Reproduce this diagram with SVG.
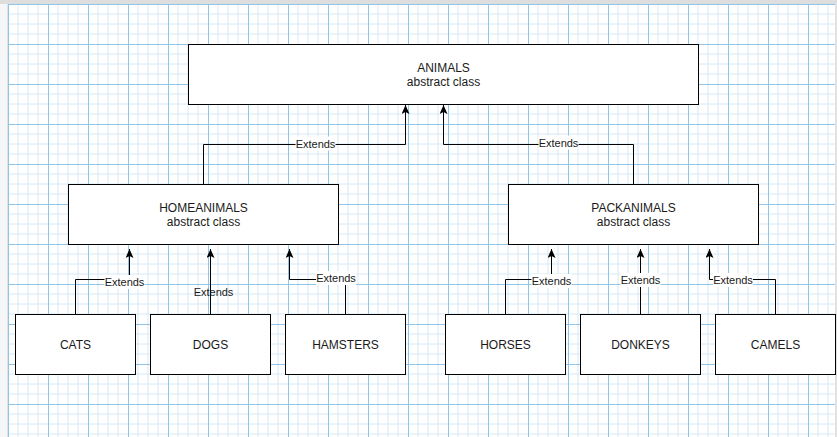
<svg xmlns="http://www.w3.org/2000/svg" width="837" height="437" viewBox="0 0 837 437">
<style>
.node rect{fill:#fff;stroke:#000;stroke-width:1}
.node text{font-family:"Liberation Sans",Arial,sans-serif;font-size:12px;fill:#1a1a1a;text-anchor:middle}
.edge path{fill:none;stroke:#000;stroke-width:1;marker-end:url(#arr)}
.lbl rect{fill:#fff}
.lbl text{font-family:"Liberation Sans",Arial,sans-serif;font-size:11px;fill:#1a1a1a;text-anchor:middle}
</style>
<defs>
<pattern id="grid" patternUnits="userSpaceOnUse" x="8" y="4" width="40" height="40">
<path d="M10,0V40M20,0V40M30,0V40M0,10H40M0,20H40M0,30H40" stroke="#d6e8f5" stroke-width="1" fill="none"/>
<path d="M0.5,0V40M0,0.5H40" stroke="#8ec5e8" stroke-width="1" fill="none"/>
</pattern>
<marker id="arr" viewBox="0 0 9 8" refX="9" refY="4" markerWidth="9" markerHeight="8" markerUnits="userSpaceOnUse" orient="auto">
<path d="M0,0 L9,4 L0,8 L2,4 Z" fill="#000"/>
</marker>
</defs>
<g id="background">
<rect x="0" y="0" width="837" height="437" fill="#fff"/>
<rect x="0" y="0" width="7" height="437" fill="#f5f6f8"/>
<rect x="7" y="0" width="1" height="437" fill="#e2e2e2"/>
<rect x="0" y="0" width="837" height="4" fill="#dedede"/>
<rect x="8" y="4" width="827" height="433" fill="url(#grid)"/>
<rect x="835" y="4" width="2" height="433" fill="#e2e2e2"/>
</g>
<g id="connectors" class="edge">
<path d="M203.5,184V144.5H405.5V105"/>
<path d="M633.5,184V144.5H443.5V105"/>
<path d="M75.5,314V279.5H129.5V249"/>
<path d="M210.5,314V249"/>
<path d="M345.5,314V279.5H289.5V249"/>
<path d="M505.5,314V279.5H551.5V249"/>
<path d="M640.5,314V249"/>
<path d="M775.5,314V279.5H709.5V249"/>
</g>
<g id="labels" class="lbl">
<rect x="295.5" y="136.5" width="40" height="14"/><text x="315.5" y="147.5">Extends</text>
<rect x="538.5" y="135.5" width="40" height="14"/><text x="558.5" y="146.5">Extends</text>
<rect x="104.5" y="275" width="40" height="14"/><text x="124.5" y="286">Extends</text>
<text x="213.5" y="296">Extends</text>
<rect x="316" y="271" width="40" height="14"/><text x="336" y="282">Extends</text>
<rect x="531.5" y="274" width="40" height="14"/><text x="551.5" y="285">Extends</text>
<rect x="620.5" y="273" width="40" height="14"/><text x="640.5" y="284">Extends</text>
<rect x="713" y="273" width="40" height="14"/><text x="733" y="284">Extends</text>
</g>
<g id="animals" class="node"><rect x="188.5" y="44.5" width="510" height="60"/><text x="443.5" y="71.5">ANIMALS</text><text x="443.5" y="85.5">abstract class</text></g>
<g id="homeanimals" class="node"><rect x="68.5" y="184.5" width="270" height="60"/><text x="203.5" y="211.5">HOMEANIMALS</text><text x="203.5" y="225.5">abstract class</text></g>
<g id="packanimals" class="node"><rect x="508.5" y="184.5" width="250" height="60"/><text x="633.5" y="211.5">PACKANIMALS</text><text x="633.5" y="225.5">abstract class</text></g>
<g id="cats" class="node"><rect x="15.5" y="314.5" width="120" height="60"/><text x="75.5" y="348.5">CATS</text></g>
<g id="dogs" class="node"><rect x="150.5" y="314.5" width="120" height="60"/><text x="210.5" y="348.5">DOGS</text></g>
<g id="hamsters" class="node"><rect x="285.5" y="314.5" width="120" height="60"/><text x="345.5" y="348.5">HAMSTERS</text></g>
<g id="horses" class="node"><rect x="445.5" y="314.5" width="120" height="60"/><text x="505.5" y="348.5">HORSES</text></g>
<g id="donkeys" class="node"><rect x="580.5" y="314.5" width="120" height="60"/><text x="640.5" y="348.5">DONKEYS</text></g>
<g id="camels" class="node"><rect x="715.5" y="314.5" width="120" height="60"/><text x="775.5" y="348.5">CAMELS</text></g>
</svg>
